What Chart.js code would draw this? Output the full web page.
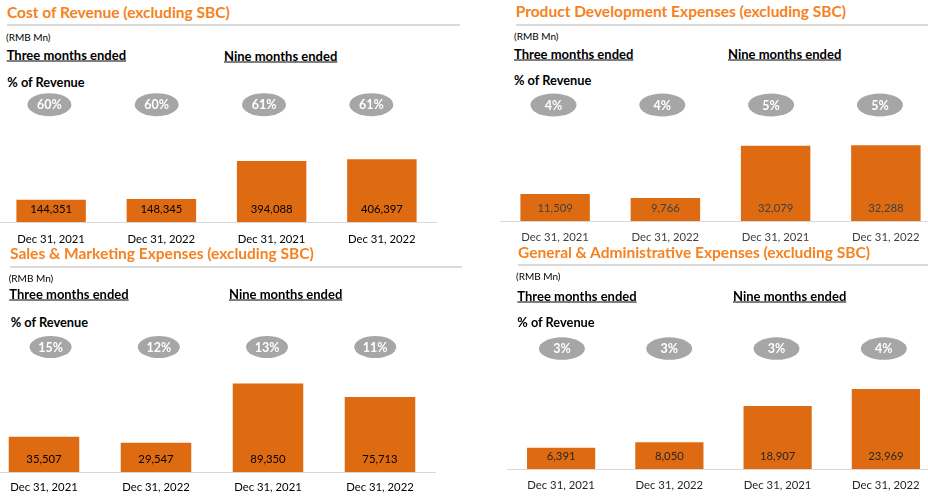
<!DOCTYPE html>
<html>
<head>
<meta charset="utf-8">
<script src="https://cdn.jsdelivr.net/npm/chart.js@4"></script>
<style>
  html, body { margin: 0; padding: 0; background: #fff; }
  #page { position: relative; width: 928px; height: 496px; overflow: hidden; font-family: Lato, sans-serif; }
  .txt { position: absolute; white-space: nowrap; line-height: 1; transform: translateY(-50%); }
  .title { color: #F58220; font-weight: bold; font-size: 15.5px; }
  .rmb { color: #000; font-size: 10px; }
  .head { color: #000; font-weight: bold; font-size: 13px; text-decoration: underline; }
  .pct { color: #000; font-weight: bold; font-size: 12.8px; }
  .rule { position: absolute; height: 2px; background: #dadada; }
  canvas { position: absolute; }
</style>
</head>
<body>
<div id="page"></div>
<script>
// data
var categories = ['Dec 31, 2021', 'Dec 31, 2022', 'Dec 31, 2021', 'Dec 31, 2022'];
var panelTitles = [
  'Cost of Revenue (excluding SBC)',
  'Product Development Expenses (excluding SBC)',
  'Sales & Marketing Expenses (excluding SBC)',
  'General & Administrative Expenses (excluding SBC)'
];
var costOfRevenue = [144351, 148345, 394088, 406397];
var costOfRevenuePct = [60, 60, 61, 61];
var productDev = [11509, 9766, 32079, 32288];
var productDevPct = [4, 4, 5, 5];
var salesMarketing = [35507, 29547, 89350, 75713];
var salesMarketingPct = [15, 12, 13, 11];
var generalAdmin = [6391, 8050, 18907, 23969];
var generalAdminPct = [3, 3, 3, 4];

// layout of the four panels (page pixels)
var panels = [
  { values: costOfRevenue, pcts: costOfRevenuePct, textColor: '#000',
    title: [7, 13.3], rule: [7, 460, 24], rmb: [6, 37.3], three: [6.7, 55], nine: [224, 56], pct: [7.3, 81.7],
    chart: { x0: -3.9, step: 110.17, top: 88, base: 222, bottom: 250, unitsPerPx: 6468, labelOff: 17 },
    ell: { x0: 49.5, step: 107.3, y: 104.7, w: 44, h: 23 } },
  { values: productDev, pcts: productDevPct, textColor: '#404040',
    title: [515.7, 12], rule: [516, 928, 24], rmb: [514, 36], three: [514, 54], nine: [728, 54], pct: [514, 80],
    chart: { x0: 499.5, step: 110.33, top: 88, base: 221, bottom: 250, unitsPerPx: 425.9, labelOff: 16.3 },
    ell: { x0: 553, step: 108.8, y: 105, w: 46, h: 23 } },
  { values: salesMarketing, pcts: salesMarketingPct, textColor: '#000',
    title: [10, 254], rule: [10, 462, 266], rmb: [8.7, 278.3], three: [9.3, 294.3], nine: [229, 294.3], pct: [10.7, 322.3],
    chart: { x0: -11.8, step: 112.03, top: 330, base: 472, bottom: 496, unitsPerPx: 1010.6, labelOff: 15.7 },
    ell: { x0: 50.8, step: 108.2, y: 347, w: 42, h: 22 } },
  { values: generalAdmin, pcts: generalAdminPct, textColor: '#262626',
    title: [518, 252.7], rule: [518, 928, 264], rmb: [516, 276], three: [517.3, 295.7], nine: [733, 295.7], pct: [517.3, 321.7],
    chart: { x0: 506.6, step: 108.27, top: 330, base: 469, bottom: 496, unitsPerPx: 299.6, labelOff: 16.3 },
    ell: { x0: 561.5, step: 107.3, y: 348.6, w: 46, h: 22.5 } }
];

var page = document.getElementById('page');

function addText(cls, text, pos) {
  var d = document.createElement('div');
  d.className = 'txt ' + cls;
  d.textContent = text;
  d.style.left = pos[0] + 'px';
  d.style.top = pos[1] + 'px';
  page.appendChild(d);
}

// ellipses with % of revenue and the value labels inside the bars
var barLabels = {
  id: 'barLabels',
  afterDatasetsDraw: function(chart, args, opts) {
    var ctx = chart.ctx;
    var p = opts.panel;
    var c = p.chart, e = p.ell;
    ctx.save();
    ctx.textAlign = 'center';
    ctx.textBaseline = 'middle';
    // % of revenue bubbles
    p.pcts.forEach(function(v, i) {
      var cx = e.x0 + i * e.step - c.x0;
      var cy = e.y - c.top;
      ctx.fillStyle = '#a6a6a6';
      ctx.beginPath();
      ctx.ellipse(cx, cy, e.w / 2, e.h / 2, 0, 0, Math.PI * 2);
      ctx.fill();
      ctx.fillStyle = '#fff';
      ctx.font = 'bold 12.5px Lato';
      ctx.fillText(v + '%', cx, cy + 0.5);
    });
    // numbers inside bars
    ctx.font = '11.3px Lato';
    ctx.fillStyle = p.textColor;
    chart.getDatasetMeta(0).data.forEach(function(bar, i) {
      ctx.fillText(p.values[i].toLocaleString('en-US'), bar.x, bar.base - 13);
    });
    ctx.restore();
  }
};

panels.forEach(function(p, idx) {
  var c = p.chart;
  addText('title', panelTitles[idx], p.title);
  var r = document.createElement('div');
  r.className = 'rule';
  r.style.left = p.rule[0] + 'px';
  r.style.width = (p.rule[1] - p.rule[0]) + 'px';
  r.style.top = p.rule[2] + 'px';
  page.appendChild(r);
  addText('rmb', '(RMB Mn)', p.rmb);
  addText('head', 'Three months ended', p.three);
  addText('head', 'Nine months ended', p.nine);
  addText('pct', '% of Revenue', p.pct);

  var cv = document.createElement('canvas');
  var w = c.step * 4, h = c.bottom - c.top;
  cv.width = Math.round(w);
  cv.height = h;
  cv.style.left = c.x0 + 'px';
  cv.style.top = c.top + 'px';
  cv.style.width = Math.round(w) + 'px';
  cv.style.height = h + 'px';
  page.appendChild(cv);

  var axisH = c.bottom - c.base;
  new Chart(cv.getContext('2d'), {
    type: 'bar',
    data: {
      labels: categories,
      datasets: [{
        data: p.values,
        backgroundColor: '#DE6B12',
        barPercentage: 0.63,
        categoryPercentage: 1
      }]
    },
    options: {
      responsive: false,
      animation: false,
      layout: { padding: 0 },
      plugins: {
        legend: { display: false },
        tooltip: { enabled: false },
        barLabels: { panel: p }
      },
      scales: {
        x: {
          grid: { display: false, drawTicks: false },
          border: { display: true, color: '#d9d9d9', width: 1 },
          ticks: { color: p.textColor, font: { family: 'Lato', size: 11.3 }, padding: c.labelOff - 6.8, maxRotation: 0, autoSkip: false },
          afterFit: function(s) { s.height = axisH; }
        },
        y: {
          display: false,
          min: 0,
          max: (c.base - c.top) * c.unitsPerPx
        }
      }
    },
    plugins: [barLabels]
  });
});
</script>
</body>
</html>
